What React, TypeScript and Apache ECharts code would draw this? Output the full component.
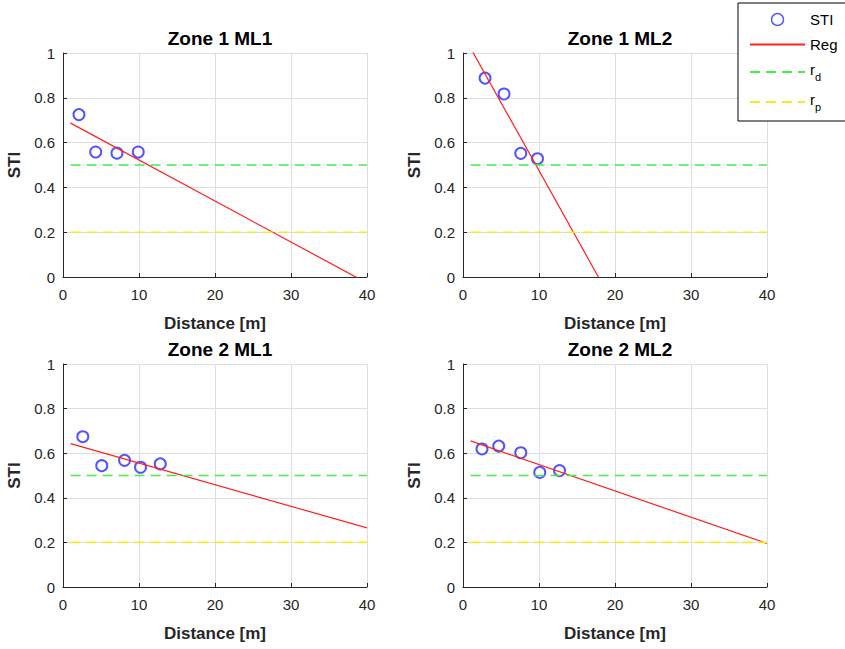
import React, { useEffect, useRef } from "react";
import * as echarts from "echarts";

// ---- data ----
const panelTitles = ["Zone 1 ML1", "Zone 1 ML2", "Zone 2 ML1", "Zone 2 ML2"];

const distZ1ML1 = [2.1, 4.3, 7.1, 9.9];
const stiZ1ML1 = [0.725, 0.558, 0.553, 0.558];
const distZ1ML2 = [2.9, 5.4, 7.6, 9.8];
const stiZ1ML2 = [0.888, 0.817, 0.552, 0.528];
const distZ2ML1 = [2.6, 5.1, 8.1, 10.2, 12.8];
const stiZ2ML1 = [0.674, 0.544, 0.568, 0.537, 0.552];
const distZ2ML2 = [2.5, 4.7, 7.6, 10.1, 12.7];
const stiZ2ML2 = [0.619, 0.632, 0.602, 0.514, 0.522];

// regression line end points (x = 1 and x = 40)
const regX = [1, 40];
const regZ1ML1 = [0.687, -0.027];
const regZ1ML2 = [1.022, -1.349];
const regZ2ML1 = [0.643, 0.265];
const regZ2ML2 = [0.655, 0.195];

// thresholds
const thrX = [1, 40];
const rD = 0.5;
const rP = 0.2;

const xTicks = [0, 10, 20, 30, 40];
const yTicks = [0, 0.2, 0.4, 0.6, 0.8, 1];

const FONT = "'Liberation Sans', Arial, Helvetica, sans-serif";
const TXT = "#262626";
const BLUE = "#2a2aff";
const RED = "#ff2020";
const GREEN = "#44ee44";
const YELLOW = "#f0f020";

const panels = [
  { title: panelTitles[0], dist: distZ1ML1, sti: stiZ1ML1, reg: regZ1ML1 },
  { title: panelTitles[1], dist: distZ1ML2, sti: stiZ1ML2, reg: regZ1ML2 },
  { title: panelTitles[2], dist: distZ2ML1, sti: stiZ2ML1, reg: regZ2ML1 },
  { title: panelTitles[3], dist: distZ2ML2, sti: stiZ2ML2, reg: regZ2ML2 },
];

const gridPos = [
  { left: 63, top: 53, width: 304, height: 224 },
  { left: 463, top: 53, width: 304, height: 224 },
  { left: 63, top: 364, width: 304, height: 223 },
  { left: 463, top: 364, width: 304, height: 223 },
];

export default function App() {
  const ref = useRef<HTMLDivElement>(null);
  useEffect(() => {
    if (!ref.current) return;
    const chart = echarts.init(ref.current, undefined, { renderer: "svg" });

    const grid = gridPos.map((g) => ({ ...g, containLabel: false }));
    const title = panels.map((p, i) => ({
      text: p.title,
      left: gridPos[i].left + gridPos[i].width / 2,
      top: gridPos[i].top - 29,
      textAlign: "center",
      textStyle: { fontFamily: FONT, fontSize: 19, fontWeight: "bold", color: "#000" },
    }));

    const xAxis = panels.map((_, i) => ({
      type: "value",
      gridIndex: i,
      min: xTicks[0],
      max: xTicks[xTicks.length - 1],
      interval: 10,
      name: "Distance [m]",
      nameLocation: "middle",
      nameGap: 38,
      nameTextStyle: { fontFamily: FONT, fontSize: 17, fontWeight: "bold", color: TXT },
      axisLine: { show: true, onZero: false, lineStyle: { color: TXT, width: 1 } },
      axisTick: { show: true, inside: true, length: 4, lineStyle: { color: TXT } },
      axisLabel: { fontFamily: FONT, fontSize: 15, color: TXT, margin: 10 },
      splitLine: { show: true, lineStyle: { color: "#dedede", width: 1 } },
    }));

    const yAxis = panels.map((_, i) => ({
      type: "value",
      gridIndex: i,
      min: yTicks[0],
      max: yTicks[yTicks.length - 1],
      interval: 0.2,
      name: "STI",
      nameLocation: "middle",
      nameGap: 40,
      nameRotate: 90,
      nameTextStyle: { fontFamily: FONT, fontSize: 17, fontWeight: "bold", color: TXT },
      axisLine: { show: true, onZero: false, lineStyle: { color: TXT, width: 1 } },
      axisTick: { show: true, inside: true, length: 4, lineStyle: { color: TXT } },
      axisLabel: { fontFamily: FONT, fontSize: 15, color: TXT, margin: 8 },
      splitLine: { show: true, lineStyle: { color: "#dedede", width: 1 } },
    }));

    const series: any[] = [];
    panels.forEach((p, i) => {
      series.push({
        name: "STI",
        type: "scatter",
        xAxisIndex: i,
        yAxisIndex: i,
        symbol: "emptyCircle",
        symbolSize: 11,
        itemStyle: { color: BLUE, borderColor: BLUE, borderWidth: 1.4 },
        data: p.dist.map((d, k) => [d, p.sti[k]]),
        z: 3,
      });
      series.push({
        name: "Reg",
        type: "line",
        xAxisIndex: i,
        yAxisIndex: i,
        symbol: "none",
        clip: true,
        lineStyle: { color: RED, width: 1.2 },
        itemStyle: { color: RED },
        data: regX.map((x, k) => [x, p.reg[k]]),
        z: 4,
      });
      series.push({
        name: "r_d",
        type: "line",
        xAxisIndex: i,
        yAxisIndex: i,
        symbol: "none",
        lineStyle: { color: GREEN, width: 1.6, type: [10, 6] },
        itemStyle: { color: GREEN },
        data: thrX.map((x) => [x, rD]),
        z: 4,
      });
      series.push({
        name: "r_p",
        type: "line",
        xAxisIndex: i,
        yAxisIndex: i,
        symbol: "none",
        lineStyle: { color: YELLOW, width: 1.6, type: [10, 6] },
        itemStyle: { color: YELLOW },
        data: thrX.map((x) => [x, rP]),
        z: 4,
      });
    });

    const hiddenSymbol = { opacity: 0 };

    chart.setOption({
      animation: false,
      backgroundColor: "#fff",
      title,
      grid,
      xAxis,
      yAxis,
      legend: {
        orient: "vertical",
        left: 738,
        top: 3,
        padding: [9, 8, 9, 11],
        itemWidth: 55,
        itemHeight: 12,
        itemGap: 10,
        backgroundColor: "#fff",
        borderColor: "#000",
        borderWidth: 1,
        data: [
          { name: "STI", icon: "circle", itemStyle: { color: "#fff", borderColor: BLUE, borderWidth: 1.4 } },
          { name: "Reg", itemStyle: hiddenSymbol },
          { name: "r_d", itemStyle: hiddenSymbol },
          { name: "r_p", itemStyle: hiddenSymbol },
        ],
        formatter: (name: string) => {
          if (name === "r_d") return "{r|r}{s|d}";
          if (name === "r_p") return "{r|r}{s|p}";
          return name;
        },
        textStyle: {
          fontFamily: FONT,
          fontSize: 15,
          color: "#000",
          rich: {
            r: { fontFamily: FONT, fontSize: 15, color: "#000", verticalAlign: "top", lineHeight: 20 },
            s: { fontFamily: FONT, fontSize: 11, color: "#000", verticalAlign: "bottom", lineHeight: 20 },
          },
        },
      },
      series,
    });
    return () => chart.dispose();
  }, []);
  return <div ref={ref} style={{ width: 845, height: 649, position: "absolute", left: 0, top: 0 }} />;
}
